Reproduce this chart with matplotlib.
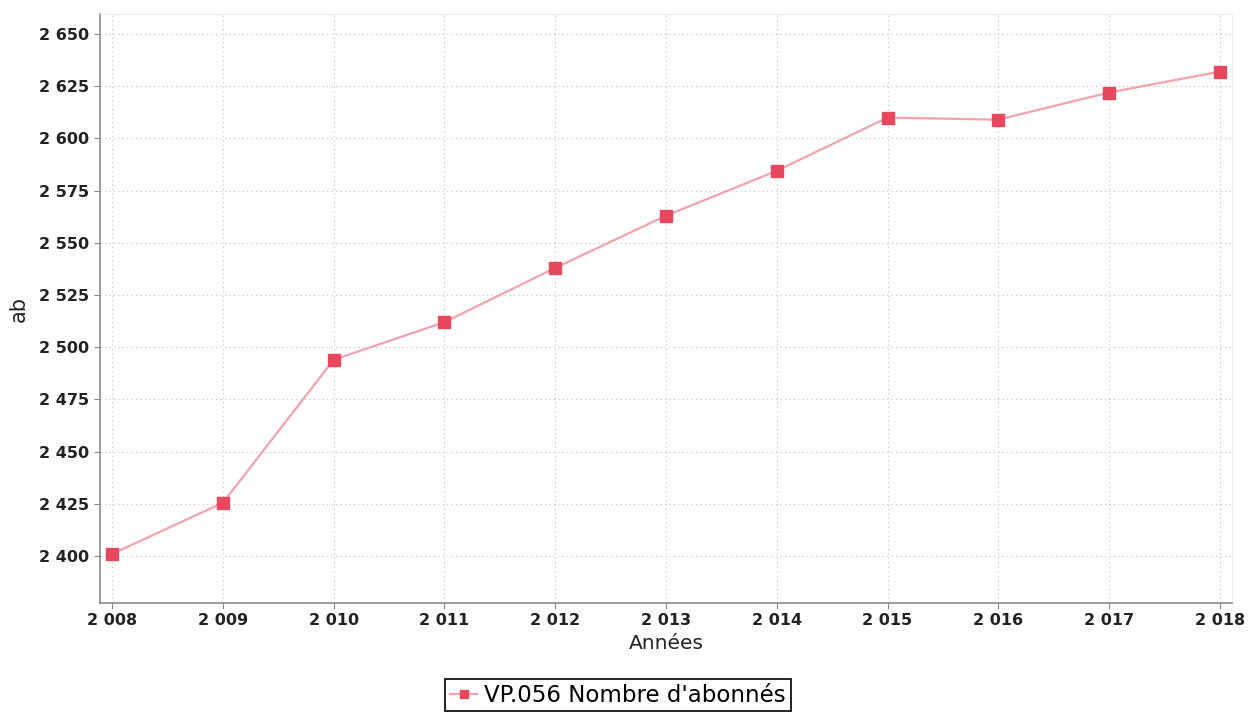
import matplotlib
matplotlib.use("Agg")
import matplotlib.pyplot as plt
from matplotlib.ticker import FuncFormatter, MultipleLocator

# Nombre d'abonnés par année
annees = [2008, 2009, 2010, 2011, 2012, 2013, 2014, 2015, 2016, 2017, 2018]
abonnes = [2401, 2425.5, 2494, 2512, 2538, 2563, 2584.5, 2610, 2609, 2622, 2632]
serie = "VP.056 Nombre d'abonnés"


def milliers(v, pos):
    s = f"{int(round(v)):,}"
    return s.replace(",", " ")


fig = plt.figure(figsize=(12.51, 7.12), dpi=100)
ax = fig.add_axes([0.0799, 0.1531, 0.9049, 0.8272])

ax.plot(annees, abonnes, color="#f2a3ad", lw=1.6, marker="s", ms=8.5,
        mfc="#e8485e", mec="#e8485e", label=serie, zorder=3)

ax.set_xlim(2007.89, 2018.11)
ax.set_ylim(2377.5, 2659.6)
ax.xaxis.set_major_locator(MultipleLocator(1))
ax.yaxis.set_major_locator(MultipleLocator(25))
ax.xaxis.set_major_formatter(FuncFormatter(milliers))
ax.yaxis.set_major_formatter(FuncFormatter(milliers))

ax.grid(True, color="#c0c0c0", ls=(0, (1, 3)), lw=0.8)
for side in ["left", "bottom"]:
    ax.spines[side].set_color("#8a8a8a")
    ax.spines[side].set_linewidth(1.2)
for side in ["top", "right"]:
    ax.spines[side].set_color("#eeeeee")

ax.tick_params(axis="both", length=4, color="#8a8a8a", labelsize=11.5,
               labelcolor="#222222")
for lab in ax.get_xticklabels() + ax.get_yticklabels():
    lab.set_fontweight("bold")

ax.set_xlabel("Années", fontsize=14.5, color="#222222", labelpad=4)
ax.set_ylabel("ab", fontsize=15, color="#222222", labelpad=8)

leg = ax.legend(loc="upper center", bbox_to_anchor=(0.4576, -0.11), fontsize=16.5,
                frameon=True, fancybox=False, framealpha=1, handlelength=1.2,
                handletextpad=0.3, borderpad=0.2, markerscale=0.7)
leg.get_frame().set_edgecolor("#111111")
leg.get_frame().set_linewidth(1.3)

fig.savefig("out.png", dpi=100)
